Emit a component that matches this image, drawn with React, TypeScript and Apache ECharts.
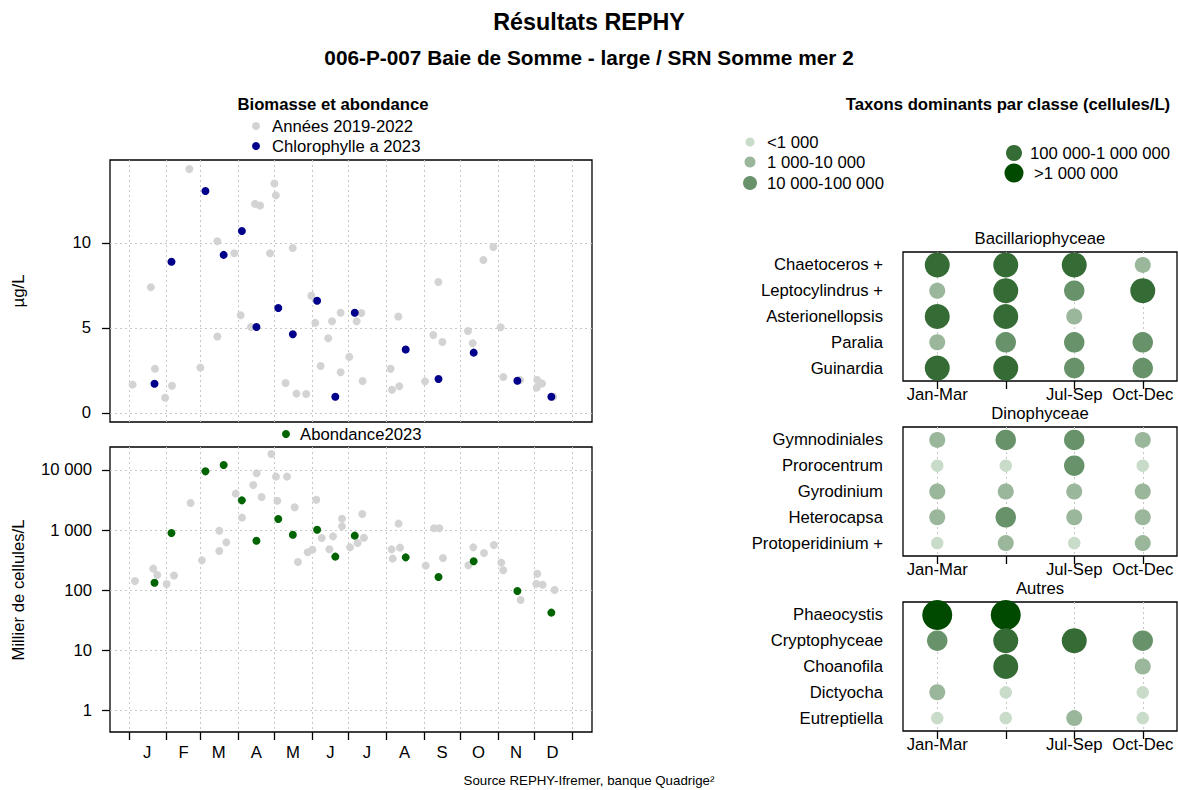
import React, { useEffect, useRef } from "react";
import * as echarts from "echarts";

const FONT = "'Liberation Sans', Arial, Helvetica, sans-serif";
const FS = 16.7;

// ---- Month axis (day of year) ----
const monthStarts = [0, 31, 59, 90, 120, 151, 181, 212, 243, 273, 304, 334, 365];
const monthMids = [15, 45, 74, 105, 135, 166, 196, 227, 258, 288, 319, 349];
const monthLetters = ["J", "F", "M", "A", "M", "J", "J", "A", "S", "O", "N", "D"];

// ---- Chlorophylle a, years 2019-2022 [dayOfYear, µg/L] ----
const chlPastDays = [3, 18, 21.4, 29.7, 35.4, 49.7, 58.8, 72.8, 72.8, 86.8, 92, 100.5, 103.8, 108, 116.2, 119.8, 121, 129, 134.9, 138, 146, 150.2, 153.5, 157.9, 164.2, 167.3, 174.4, 174.4, 181.5, 187.6, 191.4, 192.5, 215.6, 216.7, 221.9, 222.7, 243.9, 250.7, 254.9, 258.2, 279.3, 283.2, 292, 300.2, 306.2, 308.4, 322.2, 335.9, 336.4, 340.3, 349.6];
const chlPastValues = [1.67, 7.4, 2.6, 0.9, 1.6, 14.35, 2.67, 10.1, 4.5, 9.4, 5.75, 5.06, 12.3, 12.2, 9.4, 13.5, 12.8, 1.76, 9.7, 1.14, 1.12, 6.9, 5.3, 2.76, 4.4, 5.4, 5.9, 2.4, 3.3, 5.4, 5.88, 1.88, 2.6, 1.37, 5.67, 1.57, 1.86, 4.59, 7.7, 4.18, 4.82, 4.1, 9.0, 9.76, 5.04, 2.12, 1.94, 1.49, 1.94, 1.73, 0.96];

// ---- Abondance, years 2019-2022 [dayOfYear, milliers de cellules/L] ----
const abPastDays = [4.9, 20, 23.3, 31, 37.1, 50.8, 60.1, 74.4, 74.4, 80.2, 87.9, 93.1, 102.4, 105.2, 109.3, 117.3, 121.1, 122.2, 130.2, 136.5, 139.2, 147.2, 151.1, 154.3, 158.8, 165.1, 168.1, 175.5, 175.5, 182.1, 188.4, 192.2, 193.6, 216.4, 217.3, 222.1, 223.3, 244.5, 251.3, 255.7, 258.7, 279.6, 283.7, 292.5, 300.7, 306.7, 308.4, 322.7, 335.6, 336.4, 340.8, 350.7];
const abPastValues = [141, 227, 178, 126, 174, 2820, 312, 970, 447, 622, 4040, 1610, 5620, 8800, 3550, 18500, 7760, 3080, 7760, 2390, 293, 425, 470, 3200, 736, 477, 784, 1540, 1150, 514, 607, 1850, 745, 476, 333, 1276, 508, 255, 1067, 1067, 341, 258, 514, 414, 562, 286, 213, 68, 127, 187, 122, 100];

// ---- 2023 ----
const days2023 = [21, 35, 63, 78, 93, 105, 123, 135, 155, 170, 186, 228, 255, 284, 320, 348];
const chl2023 = [1.72, 8.9, 13.06, 9.3, 10.7, 5.06, 6.18, 4.63, 6.6, 0.96, 5.9, 3.73, 2.0, 3.55, 1.9, 0.96];
const ab2023 = [132, 890, 9500, 12100, 3120, 663, 1525, 835, 1010, 360, 805, 350, 165, 301, 96, 42];

const chlTicks = [0, 5, 10];
const abTicks = [1, 10, 100, 1000, 10000];

// ---- Dominant taxa ----
const quarters = ["Jan-Mar", "Apr-Jun", "Jul-Sep", "Oct-Dec"];
const hiddenQuarterLabel = 1;
const bacTaxa = ["Chaetoceros +", "Leptocylindrus +", "Asterionellopsis", "Paralia", "Guinardia"];
const bacClasses = [[4, 4, 4, 2], [2, 4, 3, 4], [4, 4, 2, 0], [2, 3, 3, 3], [4, 4, 3, 3]];
const dinoTaxa = ["Gymnodiniales", "Prorocentrum", "Gyrodinium", "Heterocapsa", "Protoperidinium +"];
const dinoClasses = [[2, 3, 3, 2], [1, 1, 3, 1], [2, 2, 2, 2], [2, 3, 2, 2], [1, 2, 1, 2]];
const autTaxa = ["Phaeocystis", "Cryptophyceae", "Choanofila", "Dictyocha", "Eutreptiella"];
const autClasses = [[5, 5, 0, 0], [3, 4, 4, 3], [0, 4, 0, 2], [2, 1, 0, 1], [1, 1, 2, 1]];

const classLabels = ["<1 000", "1 000-10 000", "10 000-100 000", "100 000-1 000 000", ">1 000 000"];
const classColors = ["#c9dbc9", "#9bb79b", "#67926a", "#356b35", "#004a00"];
const classSizes = [12.5, 16, 20.5, 25, 30];
const legendSizes = [9, 11, 14, 16, 19];

const GRAY = "#d3d3d3";
const NAVY = "#00008b";
const GREEN = "#006400";

function fmtThousands(v: number) {
  return String(Math.round(v)).replace(/\B(?=(\d{3})+(?!\d))/g, " ");
}

function zip(a: number[], b: number[]) {
  return a.map((x, i) => [x, b[i]]);
}

export default function App() {
  const ref = useRef<HTMLDivElement>(null);

  useEffect(() => {
    if (!ref.current) return;
    const chart = echarts.init(ref.current, undefined, { renderer: "svg" });

    const splitStyle = { color: "#c8c8c8", type: [2, 3] as any, width: 1 };
    const gridBox = { show: true, borderColor: "#000", borderWidth: 1.3, backgroundColor: "transparent" };

    const leftGrids = [
      { left: 110, top: 160, width: 482, height: 262, ...gridBox },
      { left: 110, top: 447, width: 482, height: 285, ...gridBox },
    ];
    const rightGrids = [
      { left: 903, top: 252, width: 274, height: 129, ...gridBox },
      { left: 903, top: 427, width: 274, height: 129, ...gridBox },
      { left: 903, top: 602, width: 274, height: 129, ...gridBox },
    ];

    const dayAxisBase = {
      type: "value",
      min: -15.65,
      max: 381.5,
      axisLine: { show: false, onZero: false },
    };

    const xAxes: any[] = [
      {
        ...dayAxisBase,
        gridIndex: 0,
        axisTick: { show: false, customValues: monthStarts },
        axisLabel: { show: false },
        splitLine: { show: true, lineStyle: splitStyle },
      },
      {
        ...dayAxisBase,
        gridIndex: 1,
        axisTick: { show: true, customValues: monthStarts, length: 8, lineStyle: { color: "#000", width: 1.3 } },
        axisLabel: {
          customValues: monthMids,
          margin: 12,
          fontSize: FS,
          color: "#000",
          fontFamily: FONT,
          formatter: (v: number) => monthLetters[monthMids.indexOf(Math.round(v))] ?? "",
        },
        splitLine: { show: true, lineStyle: splitStyle },
      },
    ];
    const quarterIdx = quarters.map((_, i) => i);
    for (let g = 0; g < 3; g++) {
      xAxes.push({
        type: "value",
        gridIndex: 2 + g,
        min: -0.5,
        max: 3.5,
        axisLine: { show: false, onZero: false },
        axisTick: { show: true, customValues: quarterIdx, length: 8, lineStyle: { color: "#000", width: 1.3 } },
        axisLabel: {
          customValues: quarterIdx,
          margin: 5,
          fontSize: FS,
          color: "#000",
          fontFamily: FONT,
          formatter: (v: number) => {
            const i = Math.round(v);
            return i === hiddenQuarterLabel ? "" : quarters[i];
          },
        },
        splitLine: { show: true, lineStyle: splitStyle },
      });
    }

    const yAxes: any[] = [
      {
        type: "value",
        gridIndex: 0,
        min: -0.53,
        max: 14.88,
        axisLine: { show: false, onZero: false },
        axisTick: { show: true, customValues: chlTicks, length: 8, lineStyle: { color: "#000", width: 1.3 } },
        axisLabel: { customValues: chlTicks, margin: 19, fontSize: FS, color: "#000", fontFamily: FONT },
        splitLine: { show: true, lineStyle: splitStyle },
      },
      {
        type: "log",
        logBase: 10,
        gridIndex: 1,
        min: 0.43,
        max: 24170,
        axisLine: { show: false, onZero: false },
        axisTick: { show: true, customValues: abTicks, length: 8, lineStyle: { color: "#000", width: 1.3 } },
        axisLabel: {
          customValues: abTicks,
          margin: 18,
          fontSize: FS,
          color: "#000",
          fontFamily: FONT,
          formatter: (v: number) => fmtThousands(v),
        },
        splitLine: { show: true, lineStyle: splitStyle },
      },
    ];
    const taxaSets = [bacTaxa, dinoTaxa, autTaxa];
    const classSets = [bacClasses, dinoClasses, autClasses];
    for (let g = 0; g < 3; g++) {
      yAxes.push({
        type: "category",
        gridIndex: 2 + g,
        data: taxaSets[g],
        inverse: true,
        axisLine: { show: false, onZero: false },
        axisTick: { show: false },
        axisLabel: { margin: 20, fontSize: FS, color: "#000", fontFamily: FONT },
        splitLine: { show: false },
      });
    }

    const series: any[] = [
      {
        name: "Années 2019-2022",
        type: "scatter",
        xAxisIndex: 0,
        yAxisIndex: 0,
        symbolSize: 8,
        itemStyle: { color: GRAY, opacity: 1 },
        data: zip(chlPastDays, chlPastValues),
        z: 2,
      },
      {
        name: "Chlorophylle a 2023",
        type: "scatter",
        xAxisIndex: 0,
        yAxisIndex: 0,
        symbolSize: 8,
        itemStyle: { color: NAVY, opacity: 1 },
        data: zip(days2023, chl2023),
        z: 3,
      },
      {
        name: "Années 2019-2022 abondance",
        type: "scatter",
        xAxisIndex: 1,
        yAxisIndex: 1,
        symbolSize: 8,
        itemStyle: { color: GRAY, opacity: 1 },
        data: zip(abPastDays, abPastValues),
        z: 2,
      },
      {
        name: "Abondance2023",
        type: "scatter",
        xAxisIndex: 1,
        yAxisIndex: 1,
        symbolSize: 8,
        itemStyle: { color: GREEN, opacity: 1 },
        data: zip(days2023, ab2023),
        z: 3,
      },
    ];

    for (let g = 0; g < 3; g++) {
      const data: any[] = [];
      taxaSets[g].forEach((taxon, i) => {
        classSets[g][i].forEach((cls, q) => {
          if (cls > 0) {
            data.push({
              value: [q, taxon, cls],
              symbolSize: classSizes[cls - 1],
              itemStyle: { color: classColors[cls - 1], opacity: 1 },
            });
          }
        });
      });
      series.push({
        type: "scatter",
        xAxisIndex: 2 + g,
        yAxisIndex: 2 + g,
        data,
        itemStyle: { opacity: 1 },
        z: 3,
      });
    }

    const txt = (x: number, y: number, text: string, opts: any = {}) => ({
      type: "text",
      x,
      y,
      rotation: opts.rotation ?? 0,
      style: {
        text,
        fill: "#000",
        font: `${opts.bold ? "bold " : ""}${opts.size ?? FS}px ${FONT}`,
        textAlign: opts.align ?? "center",
        textVerticalAlign: "middle",
      },
    });
    const dot = (x: number, y: number, d: number, color: string) => ({
      type: "circle",
      shape: { cx: x, cy: y, r: d / 2 },
      style: { fill: color },
    });

    const graphics: any[] = [
      txt(589, 22, "Résultats REPHY", { bold: true, size: 23.3 }),
      txt(589, 57, "006-P-007 Baie de Somme - large / SRN Somme mer 2", { bold: true, size: 20.8 }),
      txt(333, 104, "Biomasse et abondance", { bold: true }),
      dot(256, 126, 8, GRAY),
      txt(272, 126, "Années 2019-2022", { align: "left" }),
      dot(256, 146, 8, NAVY),
      txt(272, 146, "Chlorophylle a 2023", { align: "left" }),
      dot(286, 434, 8, GREEN),
      txt(300, 434, "Abondance2023", { align: "left" }),
      txt(18, 291, "µg/L", { rotation: Math.PI / 2 }),
      txt(18, 590, "Millier de cellules/L", { rotation: Math.PI / 2 }),
      txt(1008, 104, "Taxons dominants par classe (cellules/L)", { bold: true }),
      txt(1040, 238, "Bacillariophyceae"),
      txt(1040, 413, "Dinophyceae"),
      txt(1040, 588, "Autres"),
      txt(589, 780, "Source REPHY-Ifremer, banque Quadrige²", { size: 13.3 }),
    ];
    const legendPos = [
      [750, 142, 767],
      [750, 162, 767],
      [750, 183, 767],
      [1014, 153, 1030],
      [1014, 173, 1034],
    ];
    classLabels.forEach((lab, i) => {
      const [dx, dy, tx] = legendPos[i];
      graphics.push(dot(dx, dy, legendSizes[i], classColors[i]));
      graphics.push(txt(tx, dy, lab, { align: "left" }));
    });

    chart.setOption({
      animation: false,
      backgroundColor: "#fff",
      textStyle: { fontFamily: FONT },
      grid: [...leftGrids, ...rightGrids],
      xAxis: xAxes,
      yAxis: yAxes,
      series,
      graphic: graphics,
    });

    return () => chart.dispose();
  }, []);

  return (
    <div
      ref={ref}
      style={{ position: "absolute", left: 0, top: 0, width: 1178, height: 790 }}
    />
  );
}
